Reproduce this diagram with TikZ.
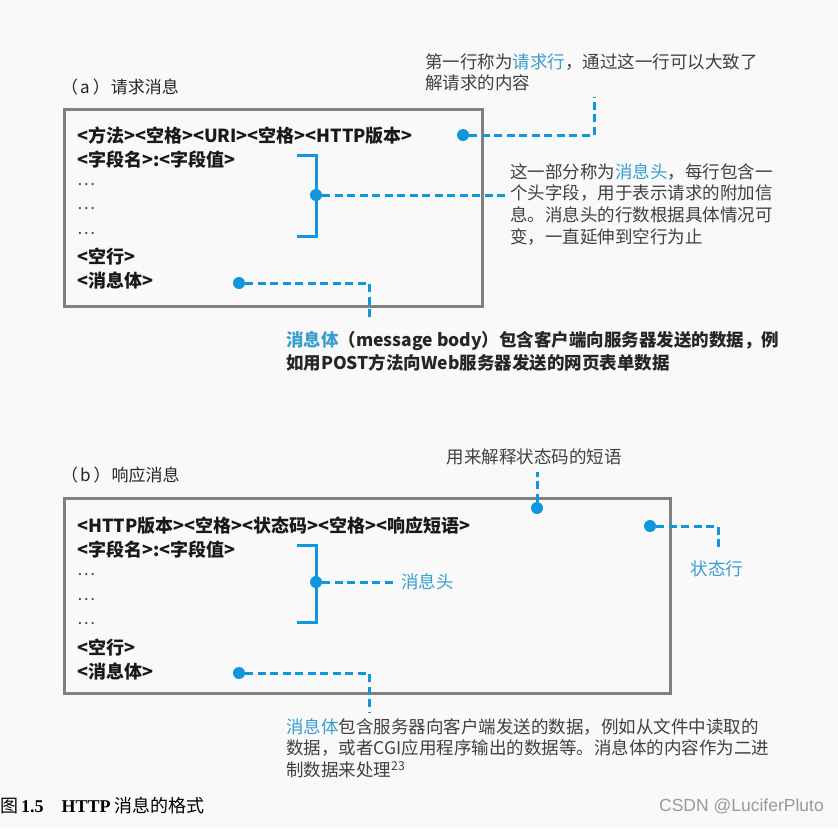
\documentclass[tikz,border=0pt]{standalone}
\usepackage{fontspec}
\setmainfont{Noto Sans CJK SC}
\newfontfamily\capfont{Liberation Serif}
\newfontfamily\wmfont{Liberation Sans}
\usetikzlibrary{positioning,calc}
\definecolor{hblue}{RGB}{16,150,220}
\definecolor{tblue}{RGB}{56,158,208}
\definecolor{boxgray}{RGB}{128,128,128}
\definecolor{notegray}{RGB}{64,64,64}
\definecolor{bggray}{RGB}{249,249,249}

\begin{document}
\begin{tikzpicture}[x=1pt, y=-1pt,
    msgbox/.style={draw=boxgray, line width=3pt, inner sep=0pt, anchor=north west},
    msgline/.style={anchor=base west, inner sep=0pt, font=\fontsize{18}{18}\selectfont\bfseries, text=black!90},
    gapline/.style={msgline, font=\fontsize{17}{17}\selectfont, text=black!70},
    partlabel/.style={anchor=west, inner sep=0pt, font=\fontsize{17}{17}\selectfont, text=black!85},
    note/.style={anchor=north west, inner sep=0pt, align=left, font=\fontsize{17.5}{21.7}\selectfont, text=notegray},
    dot/.style={circle, fill=hblue, inner sep=0pt, minimum size=12pt},
    lead/.style={draw=hblue, line width=3pt, dash pattern=on 8pt off 4.5pt},
    bracket/.style={draw=hblue, line width=3pt}]
    \fill[bggray] (0,0) rectangle (838,828);
    \useasboundingbox (0,0) rectangle (838,828);

    % (a) request message
    \node[partlabel] (alabel) at (61,87) {（\hspace{2pt}a\hspace{3pt}）\hspace{1pt}请求消息};
    \node[msgbox, minimum width=418pt, minimum height=197pt] (boxa) at (63,108) {};
    \node[msgline] (a1) at (77,142) {<方法><空格><URI><空格><HTTP版本>};
    \node[msgline] (a2) at (77,166.3) {<字段名>:<字段值>};
    \foreach \i in {3,4,5}
        \node[gapline] (a\i) at (77,{142+24.3*(\i-1)}) {\raisebox{5pt}{…}};
    \node[msgline] (a6) at (77,263.5) {<空行>};
    \node[msgline] (a7) at (77,287.8) {<消息体>};

    % request line
    \node[note] (arnote) at (425,53) {第一行称为\textcolor{tblue}{请求行}，通过这一行可以大致了\\解请求的内容};
    \node[dot] (ardot) at (463,135) {};
    \coordinate (arbend) at (594,135);
    \coordinate (artip) at (594,97);
    \draw[lead] (ardot) -- (arbend) -- (artip);

    % header
    \node[dot] (ahdot) at (316,195) {};
    \draw[bracket] ($(ahdot)+(-19,-40)$) -- ++(19,0) -- ++(0,81) -- ++(-19,0);
    \node[note] (ahnote) at (510,163) {这一部分称为\textcolor{tblue}{消息头}，每行包含一\\个头字段，用于表示请求的附加信\\息。消息头的行数根据具体情况可\\变，一直延伸到空行为止};
    \coordinate (ahend) at (507,195);
    \draw[lead] (ahdot) -- (ahend);

    % body
    \node[dot] (abdot) at (239,283) {};
    \coordinate (abbend) at (369,283);
    \coordinate (abtip) at (369,320);
    \draw[lead] (abdot) -- (abbend) -- (abtip);
    \node[note, font=\fontsize{17.5}{23}\selectfont\bfseries, text=black!85] (abnote) at (286,331)
        {\textcolor{tblue}{消息体}（message body）包含客户端向服务器发送的数据，例\\如用POST方法向Web服务器发送的网页表单数据};

    % (b) response message
    \node[partlabel] (blabel) at (61,475) {（\hspace{2pt}b\hspace{3pt}）\hspace{1pt}响应消息};
    \node[msgbox, minimum width=606pt, minimum height=195pt] (boxb) at (63,497) {};
    \node[msgline] (b1) at (77,532) {<HTTP版本><空格><状态码><空格><响应短语>};
    \node[msgline] (b2) at (77,556.4) {<字段名>:<字段值>};
    \foreach \i in {3,4,5}
        \node[gapline] (b\i) at (77,{532+24.4*(\i-1)}) {\raisebox{5pt}{…}};
    \node[msgline] (b6) at (77,654) {<空行>};
    \node[msgline] (b7) at (77,678.4) {<消息体>};

    % reason phrase
    \node[note, anchor=center] (bpnote) at (534,457) {用来解释状态码的短语};
    \node[dot] (bpdot) at (537,508) {};
    \coordinate (bptip) at (537,472);
    \draw[lead] (bpdot) -- (bptip);

    % status line
    \node[dot] (bsdot) at (650,526) {};
    \coordinate (bsbend) at (718,526);
    \coordinate (bstip) at (718,550);
    \draw[lead] (bsdot) -- (bsbend) -- (bstip);
    \node[note, anchor=center, text=tblue] (bsnote) at (717,569) {状态行};

    % header
    \node[dot] (bhdot) at (316,582) {};
    \draw[bracket] ($(bhdot)+(-19,-37)$) -- ++(19,0) -- ++(0,77) -- ++(-19,0);
    \node[note, anchor=west, text=tblue] (bhnote) at (401,582) {消息头};
    \coordinate (bhend) at (393,582);
    \draw[lead] (bhdot) -- (bhend);

    % body
    \node[dot] (bbdot) at (239,673) {};
    \coordinate (bbbend) at (369,673);
    \coordinate (bbtip) at (369,712);
    \draw[lead] (bbdot) -- (bbbend) -- (bbtip);
    \node[note] (bbnote) at (286,718) {\textcolor{tblue}{消息体}包含服务器向客户端发送的数据，例如从文件中读取的\\数据，或者CGI应用程序输出的数据等。消息体的内容作为二进\\制数据来处理\textsuperscript{23}};

    % caption
    \node[anchor=west, inner sep=0pt, font=\fontsize{18}{18}\selectfont] (figcap) at (0,806)
        {图\,{\capfont\bfseries 1.5}\quad{\capfont\bfseries HTTP} 消息的格式};
    \node[anchor=east, inner sep=0pt, font=\wmfont\fontsize{17.5}{17.5}\selectfont, text=black!40] (wmark) at (824,806) {CSDN @LuciferPluto};
\end{tikzpicture}
\end{document}
